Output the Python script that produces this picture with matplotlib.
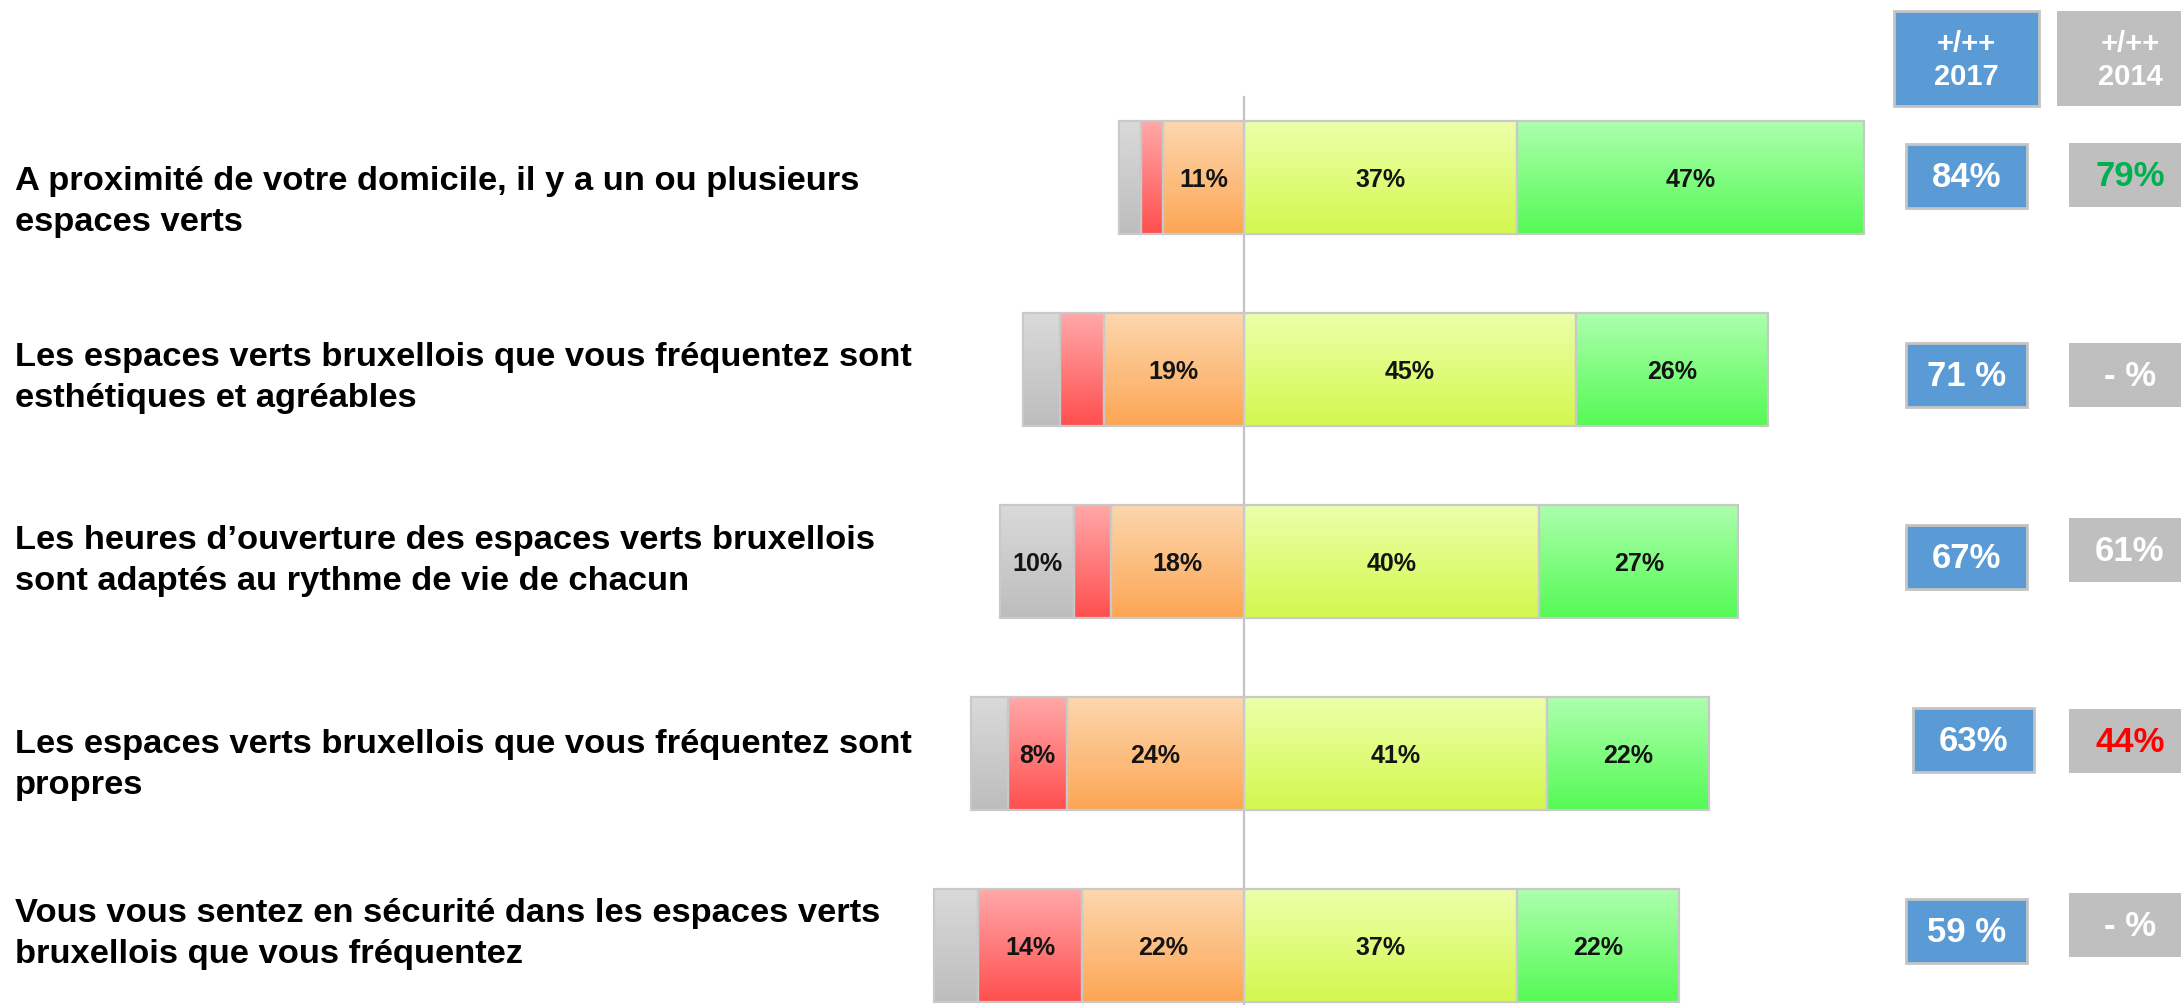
import numpy as np
import matplotlib
matplotlib.use("Agg")
import matplotlib.pyplot as plt
from matplotlib.patches import Rectangle
from matplotlib.colors import to_rgb
from matplotlib import font_manager as fm

# ---------------- data ----------------
questions = [
    "A proximité de votre domicile, il y a un ou plusieurs\nespaces verts",
    "Les espaces verts bruxellois que vous fréquentez sont\nesthétiques et agréables",
    "Les heures d\u2019ouverture des espaces verts bruxellois\nsont adaptés au rythme de vie de chacun",
    "Les espaces verts bruxellois que vous fréquentez sont\npropres",
    "Vous vous sentez en sécurité dans les espaces verts\nbruxellois que vous fréquentez",
]
nsp = [3, 5, 10, 5, 6]          # gray (no answer)
tres_neg = [3, 6, 5, 8, 14]     # red (--)
neg = [11, 19, 18, 24, 22]      # orange (-)
pos = [37, 45, 40, 41, 37]      # yellow (+)
tres_pos = [47, 26, 27, 22, 22] # green (++)

score_2017 = ["84%", "71 %", "67%", "63%", "59 %"]
score_2014 = ["79%", "- %", "61%", "44%", "- %"]
score_2014_colors = ["#00b050", "white", "white", "#ff0000", "white"]
header_2017 = "+/++\n2017"
header_2014 = "+/++\n2014"

# ---------------- fonts ----------------
def font_path():
    for f in fm.fontManager.ttflist:
        fn = f.fname.lower()
        if (f.name == "Liberation Sans" and "narrow" not in fn
                and f.style == "normal" and f.weight in (700, "bold")):
            return f.fname
    return None

BOLD_PATH = font_path()

def fp(size):
    if BOLD_PATH:
        return fm.FontProperties(fname=BOLD_PATH, size=size)
    return fm.FontProperties(family="DejaVu Sans", weight="bold", size=size)

# ---------------- styles ----------------
W, H = 2181, 1005
zero_px = 1244.0
px_per_pct = 7.38
row0_px, row_step_px = 178.0, 192.0
bar_h_px = 113.0

grad = {
    "gray":   ("#dadada", "#bdbdbd"),
    "red":    ("#ffa8a8", "#ff4f4f"),
    "orange": ("#fdd7ae", "#fca654"),
    "yellow": ("#ecffaa", "#d3f84e"),
    "green":  ("#adffad", "#55fa55"),
}
edge_col = "#c9c9c9"
blue = "#5b9bd5"
box_gray = "#bfbfbf"

fig = plt.figure(figsize=(W / 100, H / 100), dpi=100)
fig.patch.set_facecolor("white")

# bar axes: x in %, y in category index
ax = fig.add_axes([0, 0, 1, 1])
ax.set_xlim(-zero_px / px_per_pct, (W - zero_px) / px_per_pct)
ax.set_ylim((H - row0_px) / row_step_px, -row0_px / row_step_px)
ax.axis("off")

n = len(questions)
ypos = np.arange(n)
bh = bar_h_px / row_step_px

# center line
ax.plot([0, 0], [(97 - row0_px) / row_step_px, (H - row0_px) / row_step_px],
        color="#c3c3c3", lw=1.6, zorder=1)

segments = [
    (np.array(nsp), "gray"),
    (np.array(tres_neg), "red"),
    (np.array(neg), "orange"),
    (np.array(pos), "yellow"),
    (np.array(tres_pos), "green"),
]
left_start = -(np.array(nsp) + np.array(tres_neg) + np.array(neg))
lefts = left_start.astype(float).copy()

N = 64
for vals, key in segments:
    top_c, bot_c = np.array(to_rgb(grad[key][0])), np.array(to_rgb(grad[key][1]))
    t = np.linspace(0, 1, N)[:, None]
    img = (top_c[None, :] * (1 - t) + bot_c[None, :] * t)[:, None, :]
    bars = ax.barh(ypos, vals, left=lefts, height=bh, color=grad[key][1],
                   edgecolor="none", zorder=2)
    for b, v, l, y in zip(bars, vals, lefts, ypos):
        im = ax.imshow(img, extent=[l, l + v, y + bh / 2, y - bh / 2],
                       origin="upper", aspect="auto", interpolation="bilinear",
                       zorder=3)
        im.set_clip_path(b)
        if v >= 8:
            ax.text(l + v / 2, y + 0.01, f"{v}%", ha="center", va="center",
                    fontproperties=fp(18), color="#141414", zorder=5)
    ax.barh(ypos, vals, left=lefts, height=bh, facecolor="none",
            edgecolor=edge_col, lw=1.6, zorder=4)
    lefts = lefts + vals

ax.set_xlim(-zero_px / px_per_pct, (W - zero_px) / px_per_pct)
ax.set_ylim((H - row0_px) / row_step_px, -row0_px / row_step_px)

# overlay axes in pixel coords for labels and boxes
ox = fig.add_axes([0, 0, 1, 1], facecolor="none")
ox.set_xlim(0, W)
ox.set_ylim(H, 0)
ox.axis("off")

label_baselines = [190, 366, 549, 753, 922]
line_gap = 40.5
for q, yb in zip(questions, label_baselines):
    for k, line in enumerate(q.split("\n")):
        ox.text(15, yb + k * line_gap, line, ha="left", va="baseline",
                fontproperties=fp(24.8), color="black")

# header boxes
ox.add_patch(Rectangle((1894, 11), 145, 95, facecolor=blue, edgecolor="#c4c4c4", lw=2))
ox.add_patch(Rectangle((2057, 11), 140, 95, facecolor=box_gray, edgecolor="none"))
for cx, txt in [(1966.5, header_2017), (2130, header_2014)]:
    l1, l2 = txt.split("\n")
    ox.text(cx, 44, l1, ha="center", va="center", fontproperties=fp(21), color="white")
    ox.text(cx, 77, l2, ha="center", va="center", fontproperties=fp(21), color="white")

blue_boxes = [(1906, 144), (1906, 343), (1906, 525), (1913, 708), (1906, 899)]
gray_boxes = [(2069, 143), (2069, 343), (2069, 518), (2069, 709), (2069, 893)]
bw_blue, bh_box = 121, 64
for (bx, by), s in zip(blue_boxes, score_2017):
    ox.add_patch(Rectangle((bx, by), bw_blue, bh_box, facecolor=blue, edgecolor="#c4c4c4", lw=2))
    ox.text(bx + bw_blue / 2, by + bh_box / 2 + 1, s, ha="center", va="center",
            fontproperties=fp(25), color="white")
for (gx, gy), s, c in zip(gray_boxes, score_2014, score_2014_colors):
    ox.add_patch(Rectangle((gx, gy), 126, bh_box, facecolor=box_gray, edgecolor="none"))
    ox.text(2130, gy + bh_box / 2 + 1, s, ha="center", va="center",
            fontproperties=fp(25), color=c)

fig.savefig("out.png", dpi=100, facecolor="white")
